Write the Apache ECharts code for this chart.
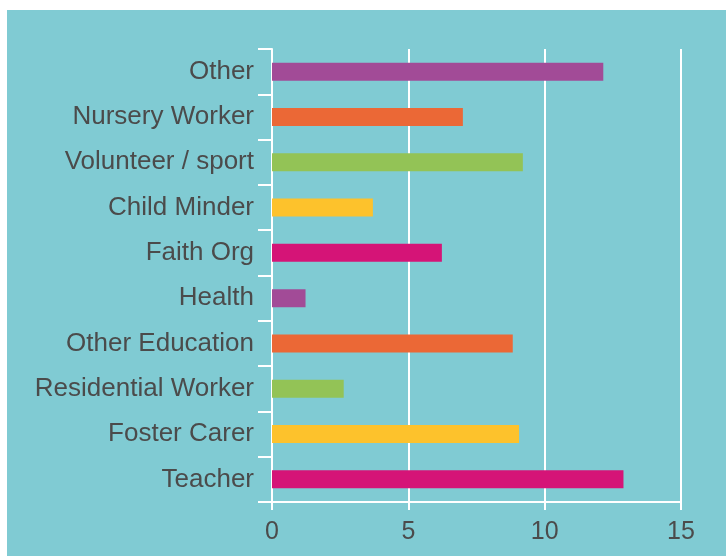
<!DOCTYPE html>
<html>
<head>
<meta charset="utf-8">
<script src="https://cdn.jsdelivr.net/npm/echarts@6/dist/echarts.min.js"></script>
<style>
    html, body { margin: 0; padding: 0; background: #ffffff; }
    #main { position: absolute; left: 7px; top: 10px; width: 719px; height: 546px; background: #80cbd3; }
</style>
</head>
<body>
<div id="main"></div>
<script>
// categories listed top to bottom
let categories = ['Other', 'Nursery Worker', 'Volunteer / sport', 'Child Minder', 'Faith Org',
    'Health', 'Other Education', 'Residential Worker', 'Foster Carer', 'Teacher']
let values = [12.15, 7.0, 9.2, 3.7, 6.23, 1.23, 8.83, 2.63, 9.06, 12.89]
let barColors = ['#a24b97', '#eb6836', '#93c356', '#fdc22c', '#d51477',
    '#a24b97', '#eb6836', '#93c356', '#fdc22c', '#d51477']
let xTicks = [0, 5, 10, 15]

let textColor = '#4b4b4b'
let font = '"Liberation Sans", Arial, Helvetica, sans-serif'

let chart = echarts.init(document.getElementById('main'), null, {renderer: 'canvas'})
let option = {
    backgroundColor: '#80cbd3',
    animation: false,
    grid: {
        left: 265,
        right: 45,
        top: 39,
        bottom: 54
    },
    xAxis: {
        type: 'value',
        min: xTicks[0],
        max: xTicks[xTicks.length - 1],
        interval: xTicks[1] - xTicks[0],
        axisLine: {show: true, lineStyle: {color: '#ffffff', width: 2}},
        axisTick: {show: true, length: 8, lineStyle: {color: '#ffffff', width: 2}},
        splitLine: {show: true, lineStyle: {color: '#ffffff', width: 2}},
        axisLabel: {color: textColor, fontSize: 25, fontFamily: font, margin: 18}
    },
    yAxis: {
        type: 'category',
        inverse: true,
        data: categories,
        axisLine: {show: true, lineStyle: {color: '#ffffff', width: 2}},
        axisTick: {show: true, length: 14, lineStyle: {color: '#ffffff', width: 2}},
        axisLabel: {color: textColor, fontSize: 26, fontFamily: font, margin: 18, padding: [4, 0, 0, 0]}
    },
    series: [
        {
            type: 'bar',
            barWidth: 18,
            silent: true,
            data: values.map(function (v, i) {
                return {value: v, itemStyle: {color: barColors[i]}}
            })
        }
    ]
}
chart.setOption(option)
</script>
</body>
</html>
